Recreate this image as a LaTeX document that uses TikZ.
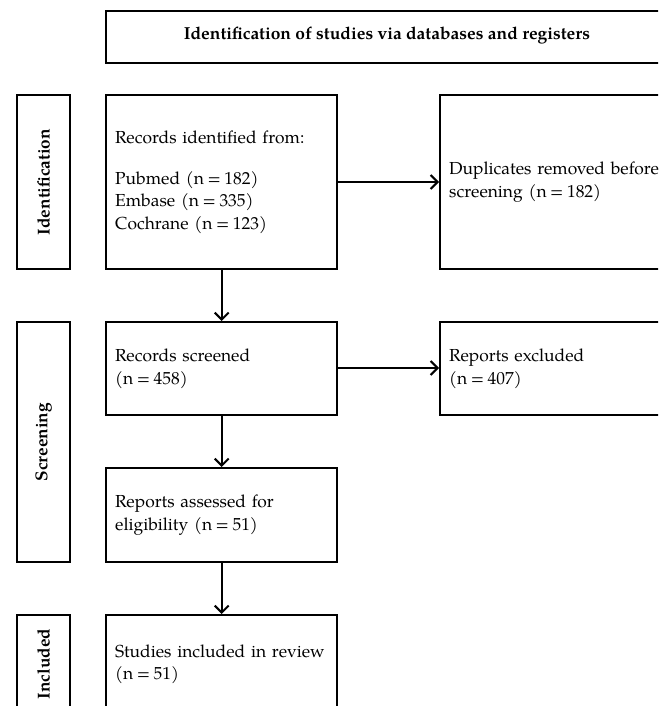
\documentclass[tikz,border=0pt]{standalone}
\usepackage{fontspec}
\setmainfont{TeX Gyre Pagella}
\usetikzlibrary{arrows.meta}
\newcommand\myeq{\hspace{3.6pt}=\hspace{3.6pt}}
\begin{document}
\begin{tikzpicture}[x=1pt,y=-1pt,
  box/.style={draw,line width=2.4pt,inner ysep=0pt,inner xsep=9pt,align=left,anchor=north west,
    font=\fontsize{17.4}{22.5}\selectfont},
  sidebox/.style={draw,line width=2.4pt,anchor=north west,minimum width=53pt,inner sep=0pt},
  sidelabel/.style={rotate=90,font=\bfseries\fontsize{17.2}{19}\selectfont,inner sep=0pt},
  arr/.style={line width=2pt,-{Straight Barb[length=7pt,width=14pt,line width=2pt]}}]
\useasboundingbox (0,0) rectangle (658,706);
\clip (0,0) rectangle (658,706);
% title
\node[draw,line width=2.4pt,anchor=north west,minimum width=600pt,minimum height=52pt,inner sep=0pt] (title) at (105,10) {};
\node[font=\bfseries\fontsize{17.4}{19}\selectfont] (titletxt) at (387,36) {Identification of studies via databases and registers};
% side boxes
\node[sidebox,minimum height=174pt] (sid) at (16,94) {};
\node[sidelabel] (sidl) at (sid.center) {Identification};
\node[sidebox,minimum height=240pt] (ssc) at (16,321) {};
\node[sidelabel] (sscl) at (ssc.center) {Screening};
\node[sidebox,minimum height=98pt] (sin) at (16,614) {};
\node[sidelabel] (sinl) at (sin.center) {Included};
% main boxes
\node[box,text width=213pt,minimum height=174pt] (rec) at (105,94)
  {Records identified from:\\[18pt]Pubmed (n\myeq 182)\\Embase (n\myeq 335)\\Cochrane (n\myeq 123)};
\node[box,text width=250pt,minimum height=174pt] (dup) at (439,94)
  {Duplicates removed before\\screening (n\myeq 182)};
\node[box,text width=213pt,minimum height=93pt] (scr) at (105,321)
  {Records screened\\(n\myeq 458)};
\node[box,text width=250pt,minimum height=93pt] (exc) at (439,321)
  {Reports excluded\\(n\myeq 407)};
\node[box,text width=213pt,minimum height=94pt] (ass) at (105,467)
  {Reports assessed for\\eligibility (n\myeq 51)};
\node[box,text width=213pt,minimum height=98pt] (inc) at (105,614)
  {Studies included in review\\(n\myeq 51)};
% arrows
\draw[arr] (rec.east |- 0,182) -- (dup.west |- 0,182);
\draw[arr] (scr.east |- 0,368) -- (exc.west |- 0,368);
\draw[arr] (rec.south) -- (scr.north);
\draw[arr] (scr.south) -- (ass.north);
\draw[arr] (ass.south) -- (inc.north);
\end{tikzpicture}
\end{document}
